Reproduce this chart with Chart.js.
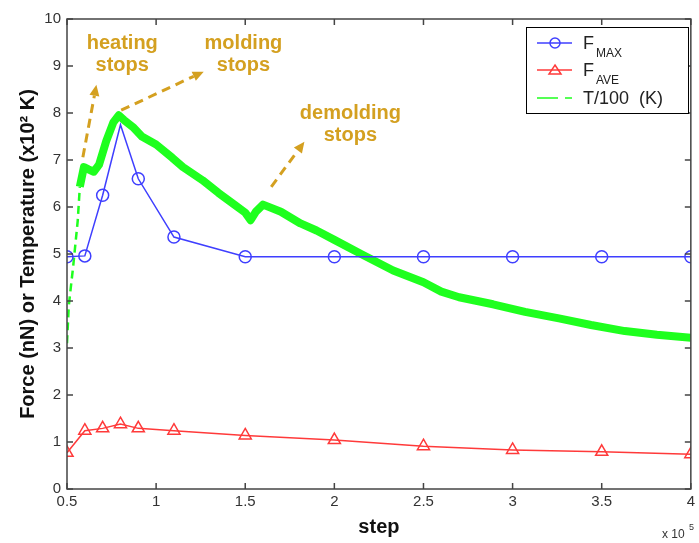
<!DOCTYPE html>
<html><head><meta charset="utf-8">
<script src="https://cdn.jsdelivr.net/npm/chart.js@4/dist/chart.umd.min.js"></script>
<style>html,body{margin:0;padding:0;background:#fff}#wrap{width:699px;height:543px}</style>
</head><body><div id="wrap"><canvas id="c" width="699" height="543"></canvas></div>
<script>
// ---- data (x in units of 10^5 steps) ----
const steps = [0.5, 0.6, 0.7, 0.8, 0.9, 1.1, 1.5, 2, 2.5, 3, 3.5, 4];
const fMax  = [4.94, 4.96, 6.25, 7.75, 6.6, 5.36, 4.94, 4.94, 4.94, 4.94, 4.94, 4.94];
const fAve  = [0.77, 1.24, 1.29, 1.38, 1.29, 1.24, 1.14, 1.04, 0.91, 0.83, 0.79, 0.74];
const tempSteps = [0.5, 0.51, 0.535, 0.56, 0.572, 0.595, 0.62, 0.65, 0.68, 0.72, 0.76, 0.79, 0.82, 0.87, 0.92, 1.0, 1.09, 1.15, 1.26, 1.35, 1.44, 1.5, 1.53, 1.56, 1.6, 1.7, 1.81, 1.9, 2.0, 2.15, 2.33, 2.5, 2.6, 2.7, 2.89, 3.07, 3.26, 3.44, 3.63, 3.81, 4.0];
const tempK100  = [3.1, 3.9, 4.75, 5.7, 6.43, 6.85, 6.8, 6.75, 6.9, 7.4, 7.8, 7.95, 7.85, 7.7, 7.5, 7.33, 7.05, 6.85, 6.57, 6.3, 6.05, 5.88, 5.72, 5.9, 6.05, 5.9, 5.65, 5.5, 5.3, 5.0, 4.65, 4.4, 4.2, 4.08, 3.93, 3.77, 3.63, 3.49, 3.36, 3.28, 3.22];
const xTickVals = [0.5, 1, 1.5, 2, 2.5, 3, 3.5, 4];
const yTickVals = [0, 1, 2, 3, 4, 5, 6, 7, 8, 9, 10];
const seriesNames = ['F', 'F', 'T/100  (K)'];
const seriesSubs = ['MAX', 'AVE', ''];
const noteLines = [['heating', 'stops'], ['molding', 'stops'], ['demolding', 'stops']];
const noteAt = [[0.81, 9.47], [1.49, 9.47], [2.09, 8.0]];
const arrowFrom = [[0.589, 7.06], [0.804, 8.06], [1.646, 6.43]];
const arrowTo = [[0.665, 8.6], [1.267, 8.88], [1.832, 7.39]];

const FONT = 'Arial, "Liberation Sans", sans-serif';
const BLUE = '#3f3fff', RED = '#ff3a3a', GREEN = '#1eff1e', GOLD = '#d4a020';

function drawArrow(ctx, x0, y0, x1, y1) {
  const ang = Math.atan2(y1 - y0, x1 - x0), L = 11, W = 5;
  const bx = x1 - L * Math.cos(ang), by = y1 - L * Math.sin(ang);
  ctx.setLineDash([9, 6]); ctx.lineWidth = 3;
  ctx.beginPath(); ctx.moveTo(x0, y0); ctx.lineTo(bx, by); ctx.stroke();
  ctx.setLineDash([]);
  ctx.beginPath(); ctx.moveTo(x1, y1);
  ctx.lineTo(bx + W * Math.sin(ang), by - W * Math.cos(ang));
  ctx.lineTo(bx - W * Math.sin(ang), by + W * Math.cos(ang));
  ctx.closePath(); ctx.fill();
}

const decor = {
  id: 'decor',
  afterDatasetsDraw(chart) {
    const {ctx, chartArea: a, scales: {x, y}} = chart;
    ctx.save();
    // frame + inward ticks
    ctx.strokeStyle = '#444'; ctx.lineWidth = 1.5;
    ctx.strokeRect(a.left, a.top, a.right - a.left, a.bottom - a.top);
    ctx.beginPath();
    xTickVals.forEach(v => { const p = x.getPixelForValue(v);
      ctx.moveTo(p, a.bottom); ctx.lineTo(p, a.bottom - 6);
      ctx.moveTo(p, a.top); ctx.lineTo(p, a.top + 6); });
    yTickVals.forEach(v => { const p = y.getPixelForValue(v);
      ctx.moveTo(a.left, p); ctx.lineTo(a.left + 6, p);
      ctx.moveTo(a.right, p); ctx.lineTo(a.right - 6, p); });
    ctx.stroke();
    // annotations
    ctx.fillStyle = GOLD; ctx.strokeStyle = GOLD;
    ctx.font = 'bold 20px ' + FONT; ctx.textAlign = 'center'; ctx.textBaseline = 'middle';
    noteLines.forEach((lines, i) => {
      const px = x.getPixelForValue(noteAt[i][0]), py = y.getPixelForValue(noteAt[i][1]);
      lines.forEach((t, j) => ctx.fillText(t, px, py + j * 22));
    });
    arrowFrom.forEach((f, i) => drawArrow(ctx,
      x.getPixelForValue(f[0]), y.getPixelForValue(f[1]),
      x.getPixelForValue(arrowTo[i][0]), y.getPixelForValue(arrowTo[i][1])));
    // legend
    const lx = 526, ly = 27, lw = 162, lh = 86;
    ctx.fillStyle = '#fff'; ctx.fillRect(lx, ly, lw, lh);
    ctx.strokeStyle = '#000'; ctx.lineWidth = 1; ctx.strokeRect(lx + 0.5, ly + 0.5, lw, lh);
    const rows = [43, 70, 98], cols = [BLUE, RED, GREEN];
    rows.forEach((ry, i) => {
      ctx.strokeStyle = cols[i]; ctx.lineWidth = 1.5;
      ctx.setLineDash(i === 2 ? [21, 7] : []);
      ctx.beginPath(); ctx.moveTo(537, ry); ctx.lineTo(572, ry); ctx.stroke();
      ctx.setLineDash([]);
      if (i === 0) { ctx.beginPath(); ctx.arc(555, ry, 5, 0, Math.PI * 2); ctx.stroke(); }
      if (i === 1) { ctx.beginPath(); ctx.moveTo(555, ry - 5); ctx.lineTo(561, ry + 4); ctx.lineTo(549, ry + 4); ctx.closePath(); ctx.stroke(); }
      ctx.fillStyle = '#222'; ctx.textAlign = 'left'; ctx.textBaseline = 'alphabetic';
      ctx.font = '18px ' + FONT;
      ctx.fillText(seriesNames[i], 583, ry + 6);
      if (seriesSubs[i]) { ctx.font = '12px ' + FONT; ctx.fillText(seriesSubs[i], 596, ry + 14); }
    });
    // exponent label
    ctx.fillStyle = '#333'; ctx.font = '12px ' + FONT; ctx.textAlign = 'left';
    ctx.fillText('x 10', 662, 538);
    ctx.font = '9px ' + FONT; ctx.fillText('5', 689, 530);
    ctx.restore();
  }
};

new Chart(document.getElementById('c'), {
  type: 'line',
  data: {
    datasets: [
      { label: 'F_MAX', data: steps.map((s, i) => ({x: s, y: fMax[i]})), borderColor: BLUE, borderWidth: 1.5,
        pointStyle: 'circle', pointRadius: steps.map(s => s === 0.8 ? 0 : 6), pointBorderColor: BLUE,
        pointBackgroundColor: 'rgba(0,0,0,0)', pointBorderWidth: 1.5, order: 0 },
      { label: 'F_AVE', data: steps.map((s, i) => ({x: s, y: fAve[i]})), borderColor: RED, borderWidth: 1.5,
        pointStyle: 'triangle', pointRadius: 7, pointBorderColor: RED,
        pointBackgroundColor: 'rgba(0,0,0,0)', pointBorderWidth: 1.5, order: 1 },
      { label: 'T/100 (K)', data: tempSteps.map((s, i) => ({x: s, y: tempK100[i]})), borderColor: GREEN, borderWidth: 8,
        pointRadius: 0, borderJoinStyle: 'round', borderCapStyle: 'butt', order: 2,
        segment: {
          borderDash: c => c.p1.parsed.x <= 0.58 ? [8, 5] : undefined,
          borderWidth: c => c.p1.parsed.x <= 0.58 ? 2.5 : undefined
        } }
    ]
  },
  options: {
    responsive: false, animation: false, devicePixelRatio: 1,
    layout: { autoPadding: false, padding: { left: 0, right: 2, top: 19, bottom: 0 } },
    plugins: { legend: { display: false }, tooltip: { enabled: false } },
    scales: {
      x: { type: 'linear', min: 0.5, max: 4,
        afterFit: s => { s.height = 54; },
        afterBuildTicks: s => { s.ticks = xTickVals.map(v => ({value: v})); },
        grid: { display: false, drawTicks: false }, border: { display: false },
        ticks: { padding: 4, color: '#333', font: { family: FONT, size: 15 }, maxRotation: 0, autoSkip: false,
          callback: v => String(v) },
        title: { display: true, text: 'step', color: '#111', font: { family: FONT, size: 20, weight: 'bold' }, padding: { top: 0, bottom: 4 } } },
      y: { type: 'linear', min: 0, max: 10,
        afterFit: s => { s.width = 67; },
        afterBuildTicks: s => { s.ticks = yTickVals.map(v => ({value: v})); },
        grid: { display: false, drawTicks: false }, border: { display: false },
        ticks: { padding: 6, color: '#333', font: { family: FONT, size: 15 }, autoSkip: false,
          callback: v => String(v) },
        title: { display: true, text: 'Force (nN) or Temperature (x10² K)', color: '#111', font: { family: FONT, size: 20, weight: 'bold' }, padding: { top: 16, bottom: 0 } } }
    }
  },
  plugins: [decor]
});
</script>
</body></html>
